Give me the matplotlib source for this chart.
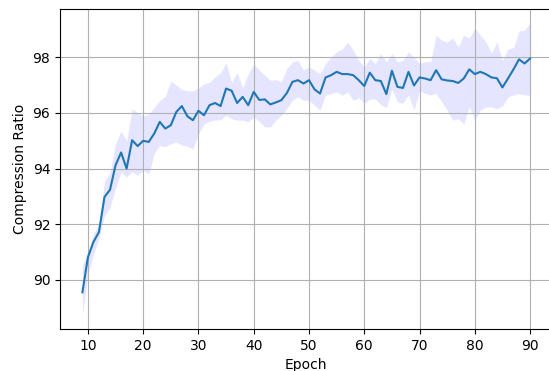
# Compression ratio per epoch, mean with spread band
import numpy as np
import matplotlib
matplotlib.use("Agg")
import matplotlib.pyplot as plt

# -------------------------------
# Data
# -------------------------------
epochs = list(range(9, 91))

ratio_mean = [
    89.55, 90.81, 91.36, 91.72, 92.98, 93.24, 94.12, 94.58, 94.00, 95.02,
    94.81, 95.00, 94.96, 95.26, 95.68, 95.44, 95.56, 96.04, 96.25, 95.88,
    95.74, 96.08, 95.92, 96.28, 96.36, 96.25, 96.88, 96.80, 96.36, 96.58,
    96.28, 96.76, 96.47, 96.49, 96.31, 96.38, 96.46, 96.72, 97.12, 97.18,
    97.06, 97.18, 96.85, 96.70, 97.28, 97.36, 97.48, 97.40, 97.40, 97.36,
    97.18, 96.97, 97.45, 97.18, 97.15, 96.68, 97.52, 96.94, 96.90, 97.48,
    96.99, 97.28, 97.24, 97.18, 97.54, 97.21, 97.17, 97.15, 97.08, 97.24,
    97.57, 97.40, 97.48, 97.40, 97.28, 97.25, 96.92, 97.24, 97.57, 97.93,
    97.78, 97.96,
]

ratio_upper = [
    90.50, 91.00, 91.65, 92.00, 93.55, 93.85, 94.90, 95.35, 95.00, 96.15,
    96.00, 95.90, 95.95, 96.20, 96.45, 96.60, 97.15, 97.00, 96.85, 96.80,
    96.80, 96.90, 97.05, 97.10, 97.30, 97.45, 97.80, 97.10, 97.45, 96.90,
    97.40, 97.75, 97.55, 97.36, 97.18, 97.20, 97.12, 97.60, 97.84, 97.90,
    97.54, 97.66, 97.54, 97.42, 97.78, 98.02, 98.20, 98.30, 98.55, 98.26,
    97.90, 97.66, 97.96, 97.78, 98.14, 97.84, 98.14, 97.84, 97.90, 98.20,
    98.00, 97.78, 97.85, 97.85, 98.80, 98.62, 98.55, 98.70, 98.38, 98.80,
    98.70, 99.05, 98.80, 98.56, 98.15, 98.56, 97.90, 98.30, 98.35, 98.95,
    98.98, 99.25,
]

ratio_lower = [
    88.75, 90.20, 90.90, 91.50, 92.30, 92.60, 93.30, 93.88, 93.70, 93.88,
    93.76, 93.94, 93.80, 94.55, 94.84, 94.78, 94.90, 94.95, 94.85, 94.80,
    94.70, 95.25, 95.60, 95.70, 95.75, 95.75, 95.92, 95.80, 95.74, 95.74,
    95.68, 95.86, 95.70, 95.50, 95.50, 95.74, 95.92, 96.17, 96.46, 96.58,
    96.46, 96.46, 96.28, 96.10, 96.64, 96.70, 96.76, 96.64, 96.76, 96.45,
    96.55, 96.35, 96.50, 96.50, 96.30, 96.20, 96.85, 96.40, 96.35, 96.65,
    96.10, 96.80, 96.70, 96.65, 96.70, 96.40, 96.10, 95.74, 95.80, 95.60,
    96.22, 95.74, 96.10, 96.22, 96.22, 96.15, 96.25, 96.58, 96.65, 96.70,
    96.65, 96.64,
]

# -------------------------------
# Plot
# -------------------------------
fig = plt.figure(figsize=(5.49, 3.71), dpi=100)
ax = fig.add_axes([0.1093, 0.1132, 0.897, 0.8625])

ax.fill_between(epochs, ratio_lower, ratio_upper, color="blue", alpha=0.1, linewidth=0)
ax.plot(epochs, ratio_mean, color="#1f77b4", linewidth=1.5)

ax.set_xlabel("Epoch")
ax.set_ylabel("Compression Ratio")
ax.set_xlim(4.95, 94.05)
ax.set_ylim(88.23, 99.74)
ax.set_xticks(np.arange(10, 91, 10))
ax.set_yticks(np.arange(90, 99, 2))
ax.grid(True)

fig.savefig("out.png", dpi=100)
